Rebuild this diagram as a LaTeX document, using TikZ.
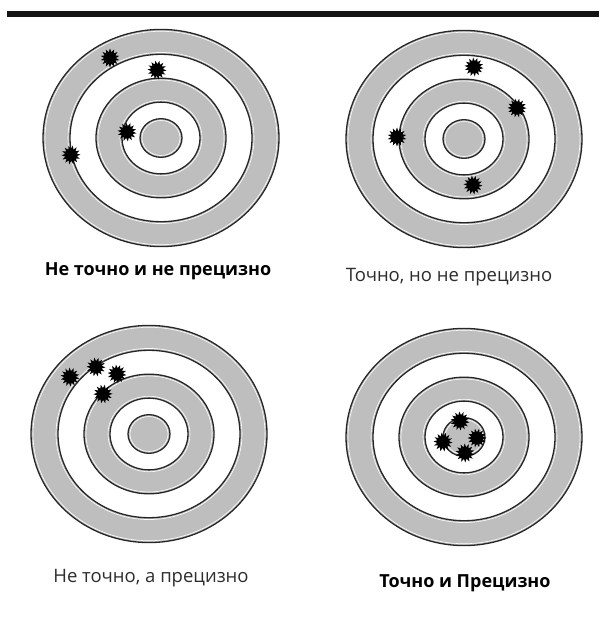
\documentclass[tikz,border=0pt]{standalone}
\usepackage{fontspec}
\setmainfont{Open Sans}
\usetikzlibrary{shapes.geometric}
\definecolor{ringgray}{RGB}{190,190,190}
\definecolor{labelgray}{RGB}{45,45,45}

\tikzset{
  board/.pic={
    \begin{scope}[yscale=0.92]
      \foreach \r/\c in {118/ringgray, 91/white, 65/ringgray, 39/white, 21/ringgray}
        \fill[\c] (0,0) circle [radius=\r];
      % thin white edge on the gray side of each line
      \foreach \r in {116, 93, 63, 41, 19}
        \draw[white, line width=0.6pt] (0,0) circle [radius=\r];
      \foreach \r in {118, 91, 65, 39, 21}
        \draw[line width=1.3pt, black!85] (0,0) circle [radius=\r];
    \end{scope}
  },
  hole/.style={star, star points=14, star point ratio=1.6, fill=black,
    inner sep=0pt, minimum size=19pt},
  caption/.style={font=\fontsize{18.5}{22}\selectfont, inner sep=1pt},
  boldcaption/.style={font=\fontsize{18}{22}\selectfont\bfseries, inner sep=1pt},
}

\begin{document}
\begin{tikzpicture}[x=1pt, y=-1pt]
  \useasboundingbox (0,0) rectangle (599,617);
  \fill[black!92] (7,11) rectangle (599,17);

  \pic at (161,138) {board};
  \pic at (464,139) {board};
  \pic at (149,434) {board};
  \pic at (464,437) {board};

  % holes
  \foreach \n/\p/\a in {a1/{110,58}/0, a2/{157,70}/10, a3/{127,132}/5, a4/{71,155}/15,
      b1/{474,67}/5, b2/{517,108}/12, b3/{397,137}/0, b4/{473,185}/8,
      c1/{70,377}/3, c2/{96,367}/11, c3/{117,374}/6, c4/{103,394}/14,
      d1/{460,421}/4, d2/{443,442}/9, d3/{465,453}/2, d4/{477,438}/13}
    \node[hole, rotate=\a] (\n) at (\p) {};

  \node[boldcaption, text=black] (capA) at (158,271) {Не точно и не прецизно};
  \node[caption, text=labelgray] (capB) at (449,277) {Точно, но не прецизно};
  \node[caption, text=labelgray] (capC) at (151,578) {Не точно, а прецизно};
  \node[boldcaption, text=black] (capD) at (465,583) {Точно и Прецизно};
\end{tikzpicture}
\end{document}
